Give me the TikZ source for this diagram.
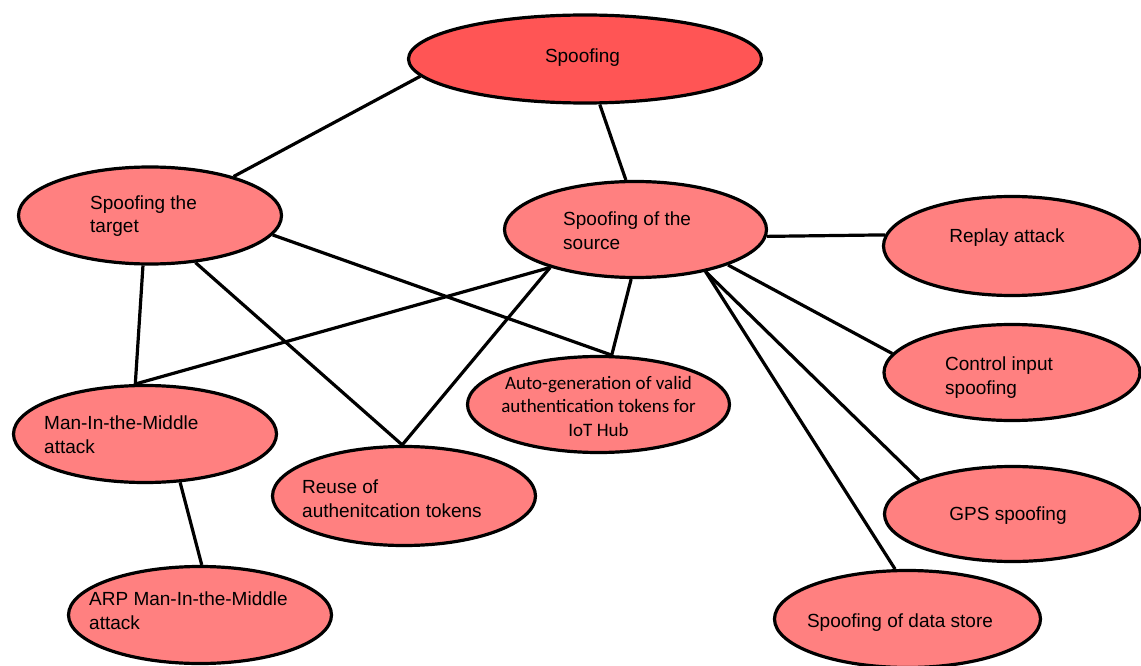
\documentclass[tikz,border=0pt]{standalone}
\usepackage{fontspec}
\setmainfont{Liberation Sans}
\newfontfamily\calib{Carlito}
\usetikzlibrary{shapes.geometric}
\definecolor{rootfill}{RGB}{255,85,85}
\definecolor{leaffill}{RGB}{255,128,128}
\tikzset{
  bubble/.style={ellipse, draw=black, line width=3.2pt, fill=leaffill, inner sep=0pt,
                 minimum width=263pt, minimum height=97pt},
  rootbubble/.style={bubble, fill=rootfill, minimum width=353pt, minimum height=88pt},
  lbl/.style={inner sep=0pt, font=\fontsize{19}{23.5}\selectfont, align=left},
  clbl/.style={inner sep=0pt, font=\calib\fontsize{19}{23.5}\selectfont, align=center},
  link/.style={draw=black, line width=3.2pt}
}
\begin{document}
\begin{tikzpicture}[x=1pt,y=-1pt]
\useasboundingbox (0,0) rectangle (1141,666);

% bubbles
\node[rootbubble] (sp) at (585,59) {};
\node[bubble] (tg)   at (150,215.5) {};
\node[bubble, minimum width=262pt, minimum height=96pt] (src) at (635.5,229.5) {};
\node[bubble, minimum width=257pt, minimum height=99pt] (rep) at (1012,246) {};
\node[bubble, minimum width=256pt, minimum height=96pt] (ctl) at (1012,372.5) {};
\node[bubble, minimum width=256pt, minimum height=95pt] (gps) at (1012.5,514) {};
\node[bubble, minimum width=266pt] (ds)   at (907.5,619) {};
\node[bubble, minimum width=262pt, minimum height=96pt] (ag) at (598.5,404.5) {};
\node[bubble] (mitm) at (145,434) {};
\node[bubble, minimum height=99pt] (reu) at (404,496) {};
\node[bubble] (arp)  at (200,615) {};

% labels (multi-line labels are anchored on the baseline of their last line)
\node[lbl, anchor=base] (tsp) at (582.5,62.5) {Spoofing};
\node[lbl, anchor=base west] (ttg) at (90,233) {Spoofing the\\target};
\node[lbl, anchor=base west] (tsrc) at (563,249) {Spoofing of the\\source};
\node[lbl, anchor=base] (trep) at (1007,242.5) {Replay attack};
\node[lbl, anchor=base west] (tctl) at (945,394) {Control input\\spoofing};
\node[lbl, anchor=base] (tgps) at (1008,520) {GPS spoofing};
\node[lbl, anchor=base] (tds) at (900,627) {Spoofing of data store};
\node[clbl, anchor=base] (tag) at (598.5,436) {Auto-generation of valid\\authentication tokens for\\IoT Hub};
\node[lbl, anchor=base west] (tmitm) at (44,453) {Man-In-the-Middle\\attack};
\node[lbl, anchor=base west] (treu) at (302,517) {Reuse of\\authenitcation tokens};
\node[lbl, anchor=base west] (tarp) at (89,629) {ARP Man-In-the-Middle\\attack};

% connectors
\draw[link] (sp.186.6) -- (tg.25.4);
\draw[link] (sp.288) -- (src.101.7);
\draw[link] (tg.351.3) -- (ag.75.6);
\draw[link] (tg.262.3) -- (mitm.101.3);
\draw[link] (tg.314.7) -- (reu.92.2);
\draw[link] (src.204.8) -- (mitm.101.3);
\draw[link] (src.204.8) -- (reu.92.2);
\draw[link] (src.265.1) -- (ag.75.6);
\draw[link] (src.357.7) -- (rep.175.1);
\draw[link] (src.339.4) -- (ctl.171.4);
\draw[link] (src.329.6) -- (gps.160.6);
\draw[link] (src.329.6) -- (ds.104.3);
\draw[link] (mitm.306.2) -- (arp.88.8);
\end{tikzpicture}
\end{document}
